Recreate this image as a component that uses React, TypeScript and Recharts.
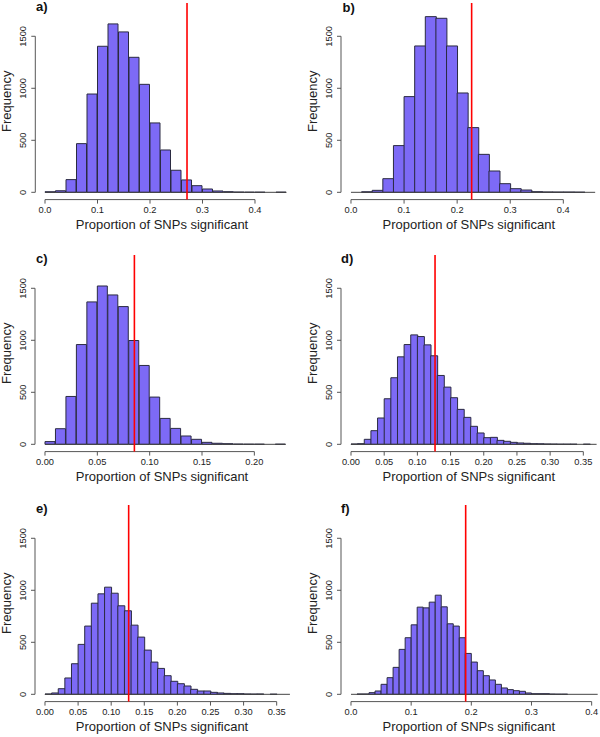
import React from 'react';
import { BarChart, Bar, XAxis, YAxis, ReferenceLine } from 'recharts';

// histogram counts, bins start at 0
const countsA = [5, 15, 122, 468, 945, 1404, 1619, 1542, 1298, 1038, 667, 407, 212, 119, 64, 32, 13, 6, 2, 1, 1, 0, 1];
const countsB = [0, 5, 19, 131, 449, 920, 1407, 1689, 1673, 1407, 955, 622, 365, 205, 83, 35, 22, 6, 3, 2, 2, 1, 0];
const countsC = [26, 150, 460, 959, 1369, 1522, 1436, 1324, 998, 758, 454, 249, 153, 80, 48, 19, 10, 6, 2, 1, 1, 0, 1];
const countsD = [3, 6, 48, 131, 253, 438, 640, 841, 959, 1052, 1036, 956, 851, 662, 550, 448, 336, 259, 173, 109, 64, 67, 38, 29, 19, 13, 10, 6, 5, 3, 2, 1, 1, 1, 0, 1, 0];
const countsE = [3, 13, 54, 157, 294, 480, 656, 876, 966, 1030, 972, 851, 803, 665, 550, 425, 310, 249, 179, 125, 102, 80, 48, 32, 32, 19, 13, 9, 6, 6, 3, 2, 3, 0, 1, 0, 0];
const countsF = [0, 3, 3, 16, 32, 96, 160, 259, 432, 544, 668, 838, 831, 886, 953, 841, 678, 656, 544, 393, 310, 227, 179, 138, 96, 61, 45, 35, 29, 13, 6, 6, 6, 2, 1, 1, 0, 0, 0, 0, 0];

const binWidths = [0.02, 0.02, 0.01, 0.01, 0.01, 0.01];
const observed = [0.2705, 0.2273, 0.0854, 0.1266, 0.1264, 0.1906];
const panelLetters = ['a)', 'b)', 'c)', 'd)', 'e)', 'f)'];

const ticksTenth = [0, 0.1, 0.2, 0.3, 0.4];
const ticksC = [0, 0.05, 0.1, 0.15, 0.2];
const ticksDE = [0, 0.05, 0.1, 0.15, 0.2, 0.25, 0.3, 0.35];
const yTicks = [0, 500, 1000, 1500];

const xDomains: [number, number][] = [
  [-0.0185, 0.4642],
  [-0.0188, 0.4627],
  [-0.00955, 0.2331],
  [-0.01507, 0.37],
  [-0.0151, 0.3686],
  [-0.0166, 0.4082],
];
const yDomain: [number, number] = [-70, 1820];

const FONT = '"Liberation Sans", Arial, Helvetica, sans-serif';
const FILL = '#7d6af6';
const AXIS = '#555';
const TEXT = '#222';
const PLOT_H = 196.6;
const X_AXIS_H = 45;
const TOP_PAD = 3;

type Layout = { left: number; plotTop: number; L: number; R: number; ticks: number[]; digits: number; labelLeft: number; labelBase: number };

const layouts: Layout[] = [
  { left: 0, plotTop: 3.4, L: 35.3, R: 288.7, ticks: ticksTenth, digits: 1, labelLeft: 36, labelBase: 10.5 },
  { left: 300, plotTop: 3.4, L: 41, R: 296.6, ticks: ticksTenth, digits: 1, labelLeft: 342.5, labelBase: 12.5 },
  { left: 0, plotTop: 254.7, L: 35, R: 289, ticks: ticksC, digits: 2, labelLeft: 36, labelBase: 263 },
  { left: 300, plotTop: 254.7, L: 41, R: 296.6, ticks: ticksDE, digits: 2, labelLeft: 341, labelBase: 263 },
  { left: 0, plotTop: 505.4, L: 35, R: 289, ticks: ticksDE, digits: 2, labelLeft: 36, labelBase: 512.5 },
  { left: 300, plotTop: 505.4, L: 41, R: 296.6, ticks: ticksTenth, digits: 1, labelLeft: 341, labelBase: 512.5 },
];

const allCounts = [countsA, countsB, countsC, countsD, countsE, countsF];

function Histogram({ idx }: { idx: number }) {
  const lay = layouts[idx];
  const w = binWidths[idx];
  const counts = allCounts[idx];
  const data = counts.map((c, i) => ({ mid: +((i + 0.5) * w).toFixed(4), count: c }));
  const lastBreak = counts.length * w;
  const xd = xDomains[idx];
  const chartW = 300;
  const chartH = TOP_PAD + PLOT_H + X_AXIS_H;

  return (
    <div style={{ position: 'absolute', left: lay.left, top: lay.plotTop - TOP_PAD, width: chartW, height: chartH }}>
      <BarChart
        width={chartW}
        height={chartH}
        data={data}
        margin={{ top: TOP_PAD, right: chartW - lay.R, left: 0, bottom: 0 }}
        barCategoryGap={0}
        barGap={0}
      >
        <XAxis
          type="number"
          dataKey="mid"
          domain={xd}
          allowDataOverflow
          ticks={lay.ticks}
          interval={0}
          axisLine={false}
          tickLine={{ stroke: AXIS }}
          tickSize={4}
          tickMargin={2.7}
          height={X_AXIS_H}
          tick={(p: any) => (
            <text x={p.x} y={p.y} dy="0.71em" textAnchor="middle" fontSize={9.3} fill={TEXT} fontFamily={FONT}>
              {Number(p.payload.value).toFixed(lay.digits)}
            </text>
          )}
          label={{
            content: (p: any) => {
              const vb = p.viewBox;
              return (
                <text x={vb.x + vb.width / 2} y={vb.y + 29.8} textAnchor="middle" fontSize={13} fill={TEXT} fontFamily={FONT}>
                  Proportion of SNPs significant
                </text>
              );
            },
          }}
        />
        <YAxis
          type="number"
          domain={yDomain}
          allowDataOverflow
          ticks={yTicks}
          interval={0}
          width={lay.L}
          axisLine={false}
          tickLine={{ stroke: AXIS }}
          tickSize={4}
          tickMargin={5.3}
          tick={(p: any) => (
            <text
              x={p.x}
              y={p.y}
              transform={`rotate(-90 ${p.x} ${p.y})`}
              textAnchor="middle"
              fontSize={9.3}
              fill={TEXT}
              fontFamily={FONT}
            >
              {p.payload.value}
            </text>
          )}
          label={{
            content: (p: any) => {
              const vb = p.viewBox;
              const bx = vb.x + vb.width - 24;
              const cy = vb.y + vb.height / 2;
              return (
                <text x={bx} y={cy} transform={`rotate(-90 ${bx} ${cy})`} textAnchor="middle" fontSize={13} fill={TEXT} fontFamily={FONT}>
                  Frequency
                </text>
              );
            },
          }}
        />
        {/* R-style axis lines spanning the tick range only */}
        <ReferenceLine
          segment={[{ x: lay.ticks[0], y: yDomain[0] }, { x: lay.ticks[lay.ticks.length - 1], y: yDomain[0] }]}
          stroke={AXIS}
          ifOverflow="visible"
        />
        <ReferenceLine
          segment={[{ x: xd[0], y: yTicks[0] }, { x: xd[0], y: yTicks[yTicks.length - 1] }]}
          stroke={AXIS}
          ifOverflow="visible"
        />
        <ReferenceLine segment={[{ x: 0, y: 0 }, { x: lastBreak, y: 0 }]} stroke="#444" ifOverflow="visible" />
        <Bar dataKey="count" fill={FILL} stroke="#2a2a40" strokeWidth={1} isAnimationActive={false} />
        <ReferenceLine x={observed[idx]} stroke="#ff0000" strokeWidth={1.6} ifOverflow="visible" />
      </BarChart>
      <div
        style={{
          position: 'absolute',
          left: lay.labelLeft - lay.left,
          top: lay.labelBase - 11 - (lay.plotTop - TOP_PAD),
          font: `bold 13px ${FONT}`,
          lineHeight: '13px',
          color: '#111',
        }}
      >
        {panelLetters[idx]}
      </div>
    </div>
  );
}

export default function App() {
  return (
    <div style={{ position: 'absolute', left: 0, top: 0, width: 600, height: 737, background: '#fff', overflow: 'hidden' }}>
      {layouts.map((_, i) => (
        <Histogram key={i} idx={i} />
      ))}
    </div>
  );
}
